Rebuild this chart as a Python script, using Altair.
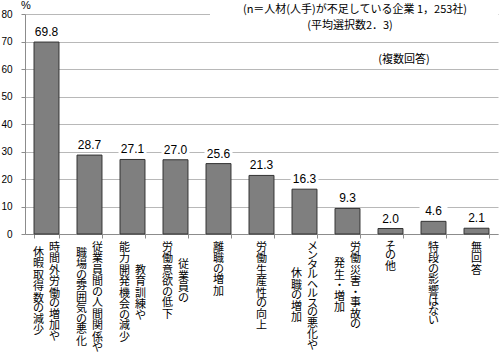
import altair as alt
import pandas as pd

# ---- data ----
label_columns = [
    ["時間外労働の増加や", "休暇取得数の減少"],
    ["従業員間の人間関係や", "職場の雰囲気の悪化"],
    ["教育訓練や", "能力開発機会の減少"],
    ["従業員の", "労働意欲の低下"],
    ["離職の増加"],
    ["労働生産性の向上"],
    ["メンタルヘルスの悪化や", "休職の増加"],
    ["労働災害・事故の", "発生・増加"],
    ["その他"],
    ["特段の影響はない"],
    ["無回答"],
]
values = [69.8, 28.7, 27.1, 27.0, 25.6, 21.3, 16.3, 9.3, 2.0, 4.6, 2.1]
categories = ["".join(c) for c in label_columns]
axis_values = [0, 10, 20, 30, 40, 50, 60, 70, 80]
note_lines = ["(n＝人材(人手)が不足している企業 1，253社)", "(平均選択数2．3)"]
note_multi = ["(複数回答)"]
unit_label = ["%"]

df = pd.DataFrame({"cat": categories, "val": values,
                   "lab": [f"{v:.1f}" for v in values]})

# vertical label characters (first column is the rightmost, as in vertical writing)
def advance(ch):
    o = ord(ch)
    if 0x3040 <= o <= 0x30FF:
        return 9.5
    return 11.5

rows = []
for cols in label_columns:
    cat = "".join(cols)
    lens = [sum(advance(c) for c in col) for col in cols]
    m = max(lens)
    for j, col in enumerate(cols):
        side = "S" if len(cols) == 1 else ("R" if j == 0 else "L")
        cum = (m - lens[j]) / 2
        for ch in col:
            a = advance(ch)
            rows.append({"cat": cat, "ch": ch, "pos": cum + a / 2, "side": side})
            cum += a
chars = pd.DataFrame(rows)

FONT = "Liberation Sans"
JP = "Noto Sans CJK JP"

xscale = alt.Scale(paddingInner=0.42, paddingOuter=0.21)
yscale = alt.Scale(domain=[0, 80])

x_axis_def = alt.Axis(labels=False, title=None, ticks=True, tickSize=4,
                      tickBand="extent", domainColor="#8c8c8c",
                      tickColor="#8c8c8c", grid=False)
y_axis_def = alt.Axis(values=axis_values, title=None, tickSize=4, labelPadding=9,
                      labelFont=FONT, labelFontSize=10, labelColor="#000000",
                      domainColor="#8c8c8c", tickColor="#8c8c8c",
                      gridColor="#b8b8b8", grid=True)

x_enc = alt.X("cat:N", sort=categories, scale=xscale, axis=x_axis_def)
y_enc = alt.Y("val:Q", scale=yscale, axis=y_axis_def)

bars = alt.Chart(df).mark_bar(color="#7f7f7f", stroke="#333333", strokeWidth=1).encode(
    x=x_enc, y=y_enc)

boxes = alt.Chart(df).mark_point(
    shape="M-1,-0.5L1,-0.5L1,0.5L-1,0.5Z", size=784, filled=True,
    color="white", opacity=1, yOffset=-10.5, strokeWidth=0,
).encode(x=x_enc, y=y_enc)

labels = alt.Chart(df).mark_text(font=FONT, fontSize=12, baseline="alphabetic",
                                 dy=-6, color="#000000").encode(
    x=x_enc, y=y_enc, text="lab:N")

mask = alt.Chart(pd.DataFrame({"t": note_lines[:1]})).mark_rect(color="white").encode(
    x=alt.value(185), x2=alt.value(473), y=alt.value(-3), y2=alt.value(3))

note1 = alt.Chart(pd.DataFrame({"t": note_lines[:1]})).mark_text(
    font=JP, fontSize=11, baseline="middle", align="center", color="#000000").encode(
    x=alt.value(330), y=alt.value(-4.5), text="t:N")
note2 = alt.Chart(pd.DataFrame({"t": note_lines[1:]})).mark_text(
    font=JP, fontSize=11, baseline="middle", align="center", color="#000000").encode(
    x=alt.value(325), y=alt.value(12), text="t:N")
note3 = alt.Chart(pd.DataFrame({"t": note_multi})).mark_text(
    font=JP, fontSize=11, baseline="middle", align="center", color="#000000").encode(
    x=alt.value(379), y=alt.value(46), text="t:N")
unit = alt.Chart(pd.DataFrame({"t": unit_label})).mark_text(
    font=FONT, fontSize=11, baseline="middle", align="center", color="#000000").encode(
    x=alt.value(1), y=alt.value(-8), text="t:N")

main = alt.layer(bars, boxes, labels, mask, note1, note2, note3, unit)

cy = alt.Y("pos:Q", scale=alt.Scale(domain=[0, 110], range=[228, 338]), axis=None)
char_layers = []
for side, dx in [("R", 8), ("L", -8), ("S", 0)]:
    char_layers.append(
        alt.Chart(chars).transform_filter(alt.datum.side == side).mark_text(
            font=JP, fontSize=11, baseline="middle", align="center",
            dx=dx, color="#000000").encode(x=x_enc, y=cy, text="ch:N"))

chart = alt.layer(main, *char_layers).resolve_scale(y="independent").properties(
    width=473, height=220,
    autosize=alt.AutoSizeParams(type="none"),
    padding={"left": 25, "top": 14, "right": 2, "bottom": 119},
).configure_view(stroke=None)

chart.save("out.html", embed_options={"renderer": "svg", "actions": False})
